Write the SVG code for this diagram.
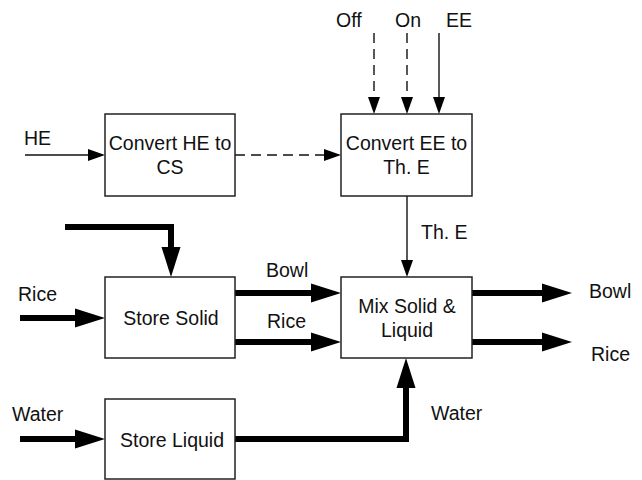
<svg xmlns="http://www.w3.org/2000/svg" width="642" height="480" viewBox="0 0 642 480">
<style>
.box{fill:#fff;stroke:#222;stroke-width:1.5}
.t{font-family:"Liberation Sans",Arial,sans-serif;font-size:19.5px;fill:#111}
.c{text-anchor:middle}
.thin{fill:none;stroke:#111;stroke-width:1.4}
.dash{stroke-dasharray:10 6}
.thick{fill:none;stroke:#000;stroke-width:6;stroke-linejoin:miter}
</style>
<defs>
<marker id="ah" markerUnits="userSpaceOnUse" markerWidth="17" markerHeight="12" refX="0" refY="6" orient="auto" overflow="visible"><path d="M0,0 L17,6 L0,12 Z" fill="#000"/></marker>
<marker id="AH" markerUnits="userSpaceOnUse" markerWidth="30" markerHeight="19" refX="0" refY="9.5" orient="auto" overflow="visible"><path d="M0,0 L30,9.5 L0,19 Z" fill="#000"/></marker>
</defs>
<rect width="642" height="480" fill="#fff"/>
<g id="connectors">
<line class="thin" x1="25" y1="155" x2="88" y2="155" marker-end="url(#ah)"/>
<line class="thin dash" x1="235" y1="155" x2="324" y2="155" marker-end="url(#ah)"/>
<line class="thin dash" x1="374" y1="33" x2="374" y2="97" marker-end="url(#ah)"/>
<line class="thin dash" x1="407" y1="33" x2="407" y2="97" marker-end="url(#ah)"/>
<line class="thin" x1="439" y1="33" x2="439" y2="97" marker-end="url(#ah)"/>
<line class="thin" x1="407" y1="196" x2="407" y2="260" marker-end="url(#ah)"/>
<path class="thick" d="M65,227 H171 V247" marker-end="url(#AH)"/>
<line class="thick" x1="20" y1="318" x2="75" y2="318" marker-end="url(#AH)"/>
<line class="thick" x1="235" y1="293" x2="311" y2="293" marker-end="url(#AH)"/>
<line class="thick" x1="235" y1="342" x2="311" y2="342" marker-end="url(#AH)"/>
<line class="thick" x1="472" y1="293" x2="542" y2="293" marker-end="url(#AH)"/>
<line class="thick" x1="472" y1="342" x2="542" y2="342" marker-end="url(#AH)"/>
<line class="thick" x1="20" y1="439" x2="75" y2="439" marker-end="url(#AH)"/>
<path class="thick" d="M235,439 H406 V388" marker-end="url(#AH)"/>
<text class="t" x="24" y="145">HE</text>
<text class="t" x="336" y="27">Off</text>
<text class="t" x="395" y="27">On</text>
<text class="t" x="446" y="27">EE</text>
<text class="t" x="421" y="239">Th. E</text>
<text class="t" x="18" y="301">Rice</text>
<text class="t" x="266" y="277">Bowl</text>
<text class="t" x="267" y="328">Rice</text>
<text class="t" x="589" y="298">Bowl</text>
<text class="t" x="591" y="361">Rice</text>
<text class="t" x="12" y="421">Water</text>
<text class="t" x="431" y="420">Water</text>
</g>
<g id="convert-he">
<rect class="box" x="105" y="114" width="130" height="82"/>
<text class="t c" x="170" y="150">Convert HE to</text>
<text class="t c" x="170" y="174">CS</text>
</g>
<g id="convert-ee">
<rect class="box" x="341" y="114" width="131" height="82"/>
<text class="t c" x="406.5" y="150">Convert EE to</text>
<text class="t c" x="406.5" y="174">Th. E</text>
</g>
<g id="store-solid">
<rect class="box" x="105" y="277" width="130" height="81"/>
<text class="t c" x="171" y="325">Store Solid</text>
</g>
<g id="mix">
<rect class="box" x="341" y="277" width="131" height="81"/>
<text class="t c" x="407" y="313">Mix Solid &amp;</text>
<text class="t c" x="407" y="337">Liquid</text>
</g>
<g id="store-liquid">
<rect class="box" x="105" y="399" width="130" height="80"/>
<text class="t c" x="172" y="447">Store Liquid</text>
</g>
</svg>
